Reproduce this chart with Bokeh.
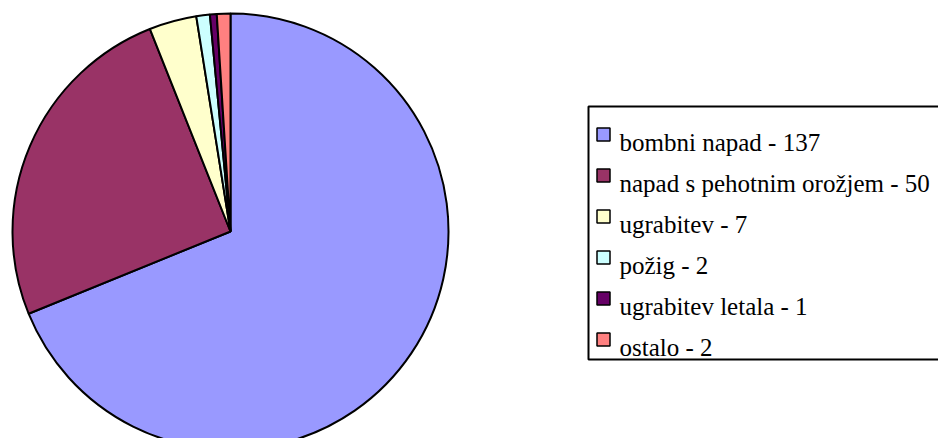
import math
from bokeh.plotting import figure
from bokeh.models import Range1d, ColumnDataSource
from bokeh.embed import file_html
from bokeh.resources import INLINE

categories = ["bombni napad", "napad s pehotnim orožjem", "ugrabitev", "požig",
              "ugrabitev letala", "ostalo"]
counts = [137, 50, 7, 2, 1, 2]
colors = ["#9999FF", "#993366", "#FFFFCC", "#CCFFFF", "#660066", "#FF8080"]

W, H = 938, 438
p = figure(width=W, height=H, output_backend="svg", toolbar_location=None,
           x_range=Range1d(0, W), y_range=Range1d(0, H), min_border=0,
           outline_line_color=None, background_fill_color="white")
p.axis.visible = False
p.grid.visible = False

def Y(y_img):
    return H - y_img

def X(x_img):
    return x_img

# pie, clockwise from 12 o'clock
total = sum(counts)
starts, ends = [], []
cum = 0
for c in counts:
    starts.append(math.pi / 2 - 2 * math.pi * cum / total)
    cum += c
    ends.append(math.pi / 2 - 2 * math.pi * cum / total)
src = ColumnDataSource(dict(start=starts, end=ends, color=colors))
p.wedge(x=X(230), y=Y(231), radius=218, start_angle="start", end_angle="end",
        direction="clock", fill_color="color", line_color="black", line_width=2,
        source=src)

# legend
p.quad(left=X(588), right=X(1000), top=Y(106), bottom=Y(359),
       fill_color="white", line_color="black", line_width=2)

row0, step = 134, 41
n = len(categories)
sq_y = [Y(row0 + i * step) for i in range(n)]
txt_y = [Y(row0 + 8 + i * step) for i in range(n)]
labels = [f"{c} - {v}" for c, v in zip(categories, counts)]
p.rect(x=[X(603)] * n, y=sq_y, width=13, height=13,
       fill_color=colors, line_color="black", line_width=1.5)
tsrc = ColumnDataSource(dict(x=[X(619)] * n, y=txt_y, t=labels,
                             f=["Liberation Serif"] * n))
p.text(x="x", y="y", text="t", source=tsrc,
       text_font="f", text_font_size="25px",
       text_color="black", text_baseline="alphabetic", text_align="left")

open("out.html", "w").write(file_html(p, INLINE))
